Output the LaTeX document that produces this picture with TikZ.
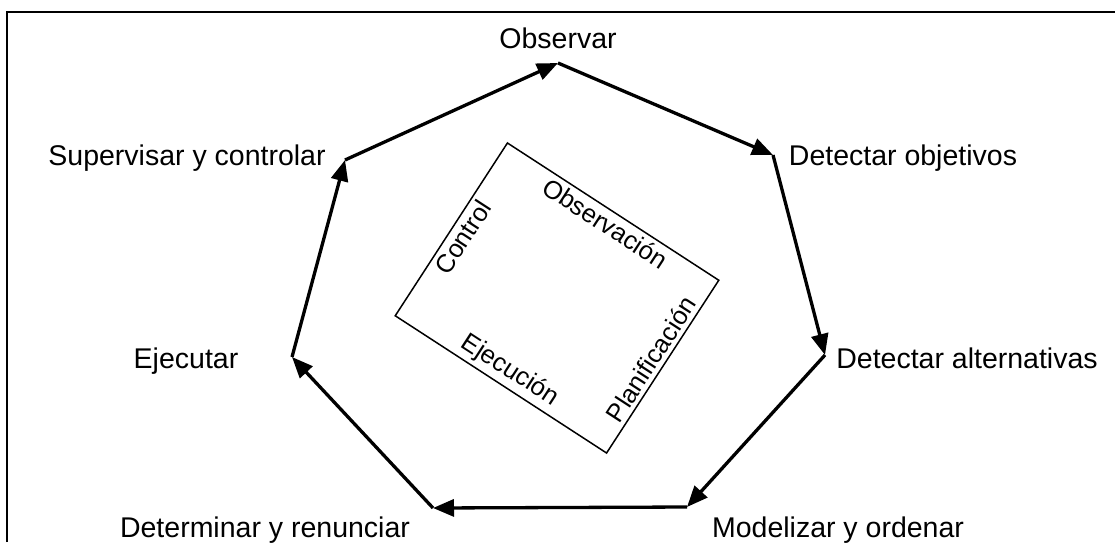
\documentclass[tikz,border=0pt]{standalone}
\usepackage{fontspec}
\setmainfont{Liberation Sans}
\usetikzlibrary{arrows.meta}

\begin{document}
\begin{tikzpicture}[x=1pt, y=-1pt,
  paso/.style = {line width=3.3pt, -{Triangle[length=21pt,width=17pt]}},
  etiq/.style = {font=\fontsize{28.5}{34}\selectfont, anchor=base, inner sep=0pt},
  fase/.style = {font=\fontsize{25.5}{30}\selectfont, inner sep=5pt}]
	\useasboundingbox (0,0) rectangle (1115,542);
	\draw[line width=2pt] (7,542) -- (7,12) -- (1115,12);
	% vertices del ciclo
	\coordinate (obs) at (558,63);
	\coordinate (obj) at (773,155);
	\coordinate (alt) at (825,355);
	\coordinate (mod) at (687,507);
	\coordinate (det) at (433,508);
	\coordinate (eje) at (292,357);
	\coordinate (sup) at (345,160);
	% etiquetas
	\node[etiq] (lobs) at (558,48) {Observar};
	\node[etiq] (lobj) at (903,165) {Detectar objetivos};
	\node[etiq] (lalt) at (967,368) {Detectar alternativas};
	\node[etiq] (lmod) at (838,537) {Modelizar y ordenar};
	\node[etiq] (ldet) at (265,537) {Determinar y renunciar};
	\node[etiq] (leje) at (186,368) {Ejecutar};
	\node[etiq] (lsup) at (187,165) {Supervisar y controlar};
	\draw[paso] (obs) -- (obj);
	\draw[paso] (obj) -- (alt);
	\draw[paso] (alt) -- (mod);
	\draw[paso] (mod) -- (det);
	\draw[paso] (det) -- (eje);
	\draw[paso] (eje) -- (sup);
	\draw[paso] (sup) -- (obs);
	% recuadro central
	\node[draw, line width=1.5pt, rotate=-33, minimum width=252, minimum height=206] (caja) at (557,298) {};
	\node[fase, rotate=-33, anchor=north] (tobs) at (caja.north) {Observación};
	\node[fase, rotate=57, anchor=north] (tcon) at (caja.west) {Control};
	\node[fase, rotate=-33, anchor=south] (teje) at (caja.south) {Ejecución};
	\node[fase, rotate=57, anchor=south] (tpla) at (caja.east) {Planificación};
\end{tikzpicture}
\end{document}
